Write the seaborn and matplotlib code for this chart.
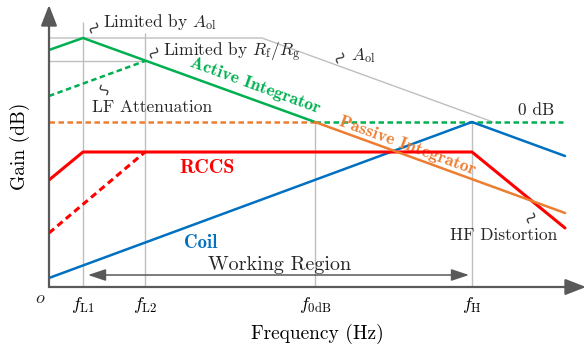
import numpy as np
import pandas as pd
import matplotlib
matplotlib.use("Agg")
import matplotlib.pyplot as plt
import seaborn as sns
from matplotlib.transforms import IdentityTransform

# ---------------- data (normalised log-frequency positions, gain in dB-like units) -------------
f_L1, f_L2, f_0dB, f_H, f_end = 3.4, 9.6, 26.6, 42.3, 51.6
tick_pos = [f_L1, f_L2, f_0dB, f_H]
tick_labels = [r"$f_{\rm L1}$", r"$f_{\rm L2}$", r"$f_{\rm 0dB}$", r"$f_{\rm H}$"]

aol_x = [0, 21.3, 44.4]
aol_y = [42, 42, 0]
rfrg_x = [0, f_L2]
rfrg_y = [30.5, 30.5]

active_x = [0, f_L1, f_0dB]
active_y = [36, 42, 0]
lf_x = [0, f_L2]
lf_y = [13, 30.5]
zero_x = [f_0dB, 51.4]
zero_y = [0, 0]

passive_dash_x = [0, f_0dB]
passive_dash_y = [0, 0]
passive_x = [f_0dB, f_end]
passive_y = [0, -45.5]

rccs_x = [0, f_L1, f_H, f_end]
rccs_y = [-29, -15, -15, -53]
rccs_dash_x = [0, f_L2]
rccs_dash_y = [-55.5, -15]

coil_x = [0, f_H, f_end]
coil_y = [-78, 0, -17]

vline_x = [f_L1, f_L2, f_0dB, f_H]
vline_top = [50, 44.5, 0, 0]

work_x = [3.9, 42.0]
work_y = -76.5

GREEN, ORANGE, RED, BLUE = "#00B050", "#ED7D31", "#FF0000", "#0070C0"
GRID, AXC = "#BFBFBF", "#595959"

sns.set_theme(style="white")
plt.rcParams["font.family"] = ["cmr10", "DejaVu Serif"]
plt.rcParams["mathtext.fontset"] = "cm"
plt.rcParams["axes.formatter.use_mathtext"] = True

W, H = 586, 346
fig = plt.figure(figsize=(W / 100, H / 100), dpi=100)
X0, Y0, X1, Y1 = 49, 287, 586, 5
ax = fig.add_axes([X0 / W, (H - Y0) / H, (X1 - X0) / W, (Y0 - Y1) / H])
XMAX = (X1 - X0) / 10
ax.set_xlim(0, XMAX)
ax.set_ylim((122 - Y0) / 2, (122 - Y1) / 2)

def X(px):
    return (px - 49) / 10

def Y(py):
    return (122 - py) / 2

# gray guide lines
ax.vlines(vline_x, ax.get_ylim()[0], vline_top, color=GRID, lw=1.0, zorder=1)
sns.lineplot(x=aol_x, y=aol_y, sort=False, ax=ax, color=GRID, lw=1.0, zorder=1)
sns.lineplot(x=rfrg_x, y=rfrg_y, sort=False, ax=ax, color=GRID, lw=1.0, zorder=1)

# curves
dash = (0, (2.2, 1.4))
sns.lineplot(x=passive_dash_x, y=passive_dash_y, sort=False, ax=ax, color=ORANGE, lw=1.8, linestyle=dash, zorder=2)
sns.lineplot(x=zero_x, y=zero_y, sort=False, ax=ax, color=GREEN, lw=1.8, linestyle=dash, zorder=3)
sns.lineplot(x=lf_x, y=lf_y, sort=False, ax=ax, color=GREEN, lw=1.8, linestyle=dash, zorder=3)
sns.lineplot(x=active_x, y=active_y, sort=False, ax=ax, color=GREEN, lw=1.8, zorder=3)
sns.lineplot(x=coil_x, y=coil_y, sort=False, ax=ax, color=BLUE, lw=1.8, zorder=3)
sns.lineplot(x=rccs_dash_x, y=rccs_dash_y, sort=False, ax=ax, color=RED, lw=2.2, linestyle=dash, zorder=4)
sns.lineplot(x=rccs_x, y=rccs_y, sort=False, ax=ax, color=RED, lw=2.2, zorder=4)
sns.lineplot(x=passive_x, y=passive_y, sort=False, ax=ax, color=ORANGE, lw=1.8, zorder=4)

# axes with arrows
for s in ax.spines.values():
    s.set_visible(False)
ap = dict(arrowstyle="-|>,head_length=0.9,head_width=0.35", color=AXC, lw=1.6,
          shrinkA=0, shrinkB=0, mutation_scale=14)
ax.annotate("", xy=(1, 0), xytext=(0, 0), xycoords="axes fraction", arrowprops=ap, annotation_clip=False)
ax.annotate("", xy=(0, 1), xytext=(0, 0), xycoords="axes fraction", arrowprops=ap, annotation_clip=False)

# working region arrow
ax.annotate("", xy=(work_x[1], work_y), xytext=(work_x[0], work_y),
            arrowprops=dict(arrowstyle="<|-|>,head_length=0.9,head_width=0.3", color=AXC, lw=1.1,
                            shrinkA=0, shrinkB=0, mutation_scale=12))

# ticks
ax.set_xticks(tick_pos)
ax.set_xticklabels(tick_labels, fontsize=13)
ax.set_yticks([])
ax.tick_params(axis="x", length=0, pad=6, colors="black")
ax.set_xlabel("Frequency (Hz)", fontsize=14, labelpad=6, color="black")
ax.set_ylabel("Gain (dB)", fontsize=14, labelpad=14, color="black")
ax.text(X(40), Y(298), r"$o$", fontsize=13, ha="center", va="center", clip_on=False)

# annotations
fs = 12.5
ax.text(X(103), Y(27.5), r"Limited by $A_{\rm ol}$", fontsize=fs, ha="left", va="baseline")
ax.text(X(163), Y(56), r"Limited by $R_{\rm f}/R_{\rm g}$", fontsize=fs, ha="left", va="baseline")
ax.text(X(351), Y(60), r"$A_{\rm ol}$", fontsize=fs, ha="left", va="baseline")
ax.text(X(92), Y(112), "LF Attenuation", fontsize=fs, ha="left", va="baseline")
ax.text(X(518), Y(115), "0 dB", fontsize=fs, ha="left", va="baseline")
ax.text(X(450), Y(240), "HF Distortion", fontsize=fs, ha="left", va="baseline")
ax.text(X(208), Y(270), "Working Region", fontsize=14.5, ha="left", va="baseline")

ax.text(X(207.5), Y(172.7), "RCCS", color=RED, ha="center", va="baseline", family="cmb10", fontsize=14.5)
ax.text(X(200.5), Y(247.7), "Coil", color=BLUE, ha="center", va="baseline", family="cmb10", fontsize=13.5)
ax.text(X(255), Y(85), "Active Integrator", color=GREEN, ha="center", va="center",
        rotation=-20, rotation_mode="anchor", family="cmb10", fontsize=12.8)
ax.text(X(407), Y(145.5), "Passive Integrator", color=ORANGE, ha="center", va="center",
        rotation=-20, rotation_mode="anchor", family="cmb10", fontsize=12.8)

# squiggle leader marks
def squiggle(cx, cy, angle=65, L=11, A=2.6, flip=False):
    s = np.linspace(0, 1, 40)
    u = (s - 0.5) * L
    v = A * np.sin(2 * np.pi * s) * (-1 if flip else 1)
    a = np.deg2rad(angle)
    xs = cx + u * np.cos(a) - v * np.sin(a)
    ys = (H - cy) + u * np.sin(a) + v * np.cos(a)
    fig.add_artist(plt.Line2D(xs, ys, transform=IdentityTransform(), color="#404040", lw=1.0))

squiggle(94, 28)
squiggle(154, 53)
squiggle(340, 58)
squiggle(104, 90, angle=-60, flip=True)
squiggle(531, 218)

fig.savefig("out.png", dpi=100)
